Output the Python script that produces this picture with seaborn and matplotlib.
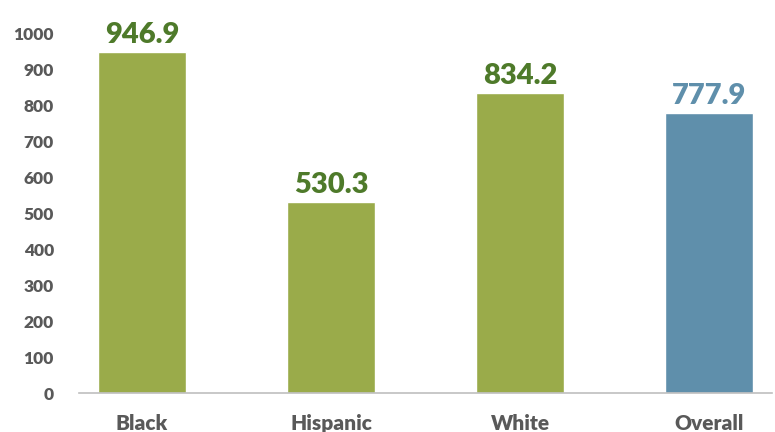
import pandas as pd
import seaborn as sns
import matplotlib.pyplot as plt

# datos
grupos = ["Black", "Hispanic", "White", "Overall"]
valores = [946.9, 530.3, 834.2, 777.9]
colores_barra = ["#9aab4a", "#9aab4a", "#9aab4a", "#5f8fab"]
colores_texto = ["#4e7a2a", "#4e7a2a", "#4e7a2a", "#5f8fab"]
ticks_y = [0, 100, 200, 300, 400, 500, 600, 700, 800, 900, 1000]

df = pd.DataFrame({"grupo": grupos, "valor": valores})

sns.set_style("white")
plt.rcParams['font.family'] = ['Lato', 'DejaVu Sans']

fig = plt.figure(figsize=(7.75, 4.32), dpi=100)
ax = fig.add_axes([79/775, 1 - 393/432, (772 - 79)/775, (393 - 33)/432])

sns.barplot(data=df, x="grupo", y="valor", hue="grupo", palette=colores_barra,
            legend=False, width=0.466, saturation=1, ax=ax)

for cont, c in zip(ax.containers, colores_texto):
    ax.bar_label(cont, fmt="%.1f", padding=3, color=c, fontsize=21,
                 fontweight="heavy", clip_on=False)

ax.set_xlim(-0.333, 3.333)
ax.set_ylim(0, 1000)
ax.set_yticks(ticks_y)
ax.set_xlabel("")
ax.set_ylabel("")
ax.tick_params(axis="y", length=0, labelsize=12.5, labelcolor="#595959", pad=18)
ax.tick_params(axis="x", length=0, labelsize=15, labelcolor="#595959", pad=15)
for lab in ax.get_yticklabels() + ax.get_xticklabels():
    lab.set_fontweight("heavy")

sns.despine(ax=ax, left=True)
ax.spines["bottom"].set_color("#bfbfbf")
ax.spines["bottom"].set_linewidth(1.2)

fig.savefig("out.png", dpi=100)
